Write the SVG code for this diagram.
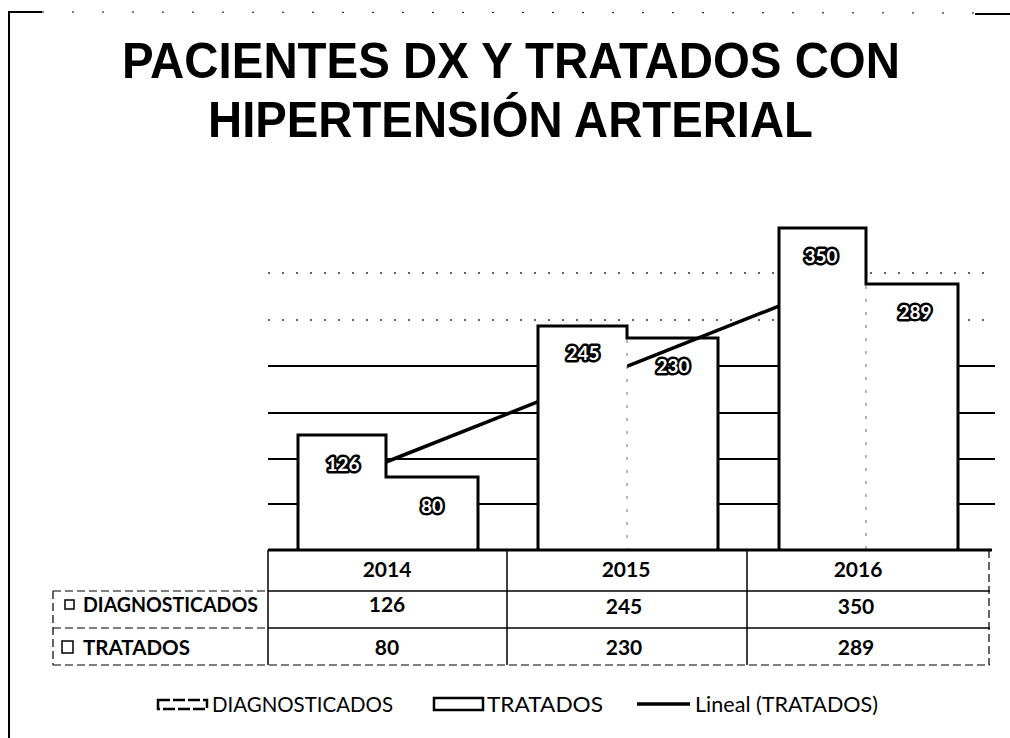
<svg xmlns="http://www.w3.org/2000/svg" width="1010" height="738" viewBox="0 0 1010 738">
<style>
.title{font-family:"Liberation Sans",Arial,sans-serif;font-weight:bold;font-size:50px;fill:#000}
.grid{stroke:#000;stroke-width:2}
.gridf{stroke:#333;stroke-width:1.5;stroke-dasharray:2 12}
.barfill{fill:#fff;stroke:none}
.barline{fill:none;stroke:#000;stroke-width:3;stroke-linejoin:miter}
.sep{stroke:#888;stroke-width:1.2;stroke-dasharray:3 10}
.val{font-family:Lato,"Liberation Sans",sans-serif;font-weight:bold;font-size:19px;fill:#fff;stroke:#000;stroke-width:5;paint-order:stroke;stroke-linejoin:round;text-anchor:middle}
.tt{font-family:Lato,"Liberation Sans",sans-serif;font-weight:bold;font-size:21px;fill:#000}
.tc{text-anchor:middle}
.tl{stroke:#000;stroke-width:1.5}
.td{stroke:#000;stroke-width:1.2;stroke-dasharray:8 4}
.lg{font-family:Lato,"Liberation Sans",sans-serif;font-size:21px;fill:#000}
</style>
<rect width="1010" height="738" fill="#fff"/>
<g id="frame">
<line x1="9" y1="12" x2="9" y2="738" stroke="#000" stroke-width="2"/>
<line x1="8" y1="12" x2="42" y2="12" stroke="#000" stroke-width="2"/>
<line x1="42" y1="12" x2="975" y2="13" stroke="#000" stroke-width="1" stroke-dasharray="2 28"/>
<line x1="975" y1="14" x2="1010" y2="14" stroke="#000" stroke-width="2"/>
</g>
<g id="title">
<text class="title" x="122" y="78" textLength="778" lengthAdjust="spacingAndGlyphs">PACIENTES DX Y TRATADOS CON</text>
<text class="title" x="208" y="137" textLength="605" lengthAdjust="spacingAndGlyphs">HIPERTENSIÓN ARTERIAL</text>
</g>
<g id="gridlines">
<line class="gridf" x1="268" y1="273" x2="995" y2="273"/>
<line class="gridf" x1="268" y1="320" x2="995" y2="320" stroke-dasharray="5 7"/>
<line class="grid" x1="268" y1="366" x2="995" y2="366"/>
<line class="grid" x1="268" y1="413" x2="995" y2="413"/>
<line class="grid" x1="268" y1="459" x2="995" y2="459"/>
<line class="grid" x1="268" y1="504" x2="995" y2="504"/>
</g>
<g id="tratados-bars">
<rect class="barfill" x="386" y="477" width="92" height="72"/>
<rect class="barfill" x="627" y="338" width="91" height="211"/>
<rect class="barfill" x="866" y="284" width="92" height="265"/>
</g>
<g id="connectors">
<line x1="386" y1="462" x2="800" y2="297.7" stroke="#000" stroke-width="3.5"/>
</g>
<g id="bar-2014">
<rect class="barfill" x="298" y="435" width="88" height="114"/>
<path class="barline" d="M298,549 V435 H386 V477 H478 V549"/>
<text class="val" x="343" y="471">126</text>
<text class="val" x="432" y="513">80</text>
</g>
<g id="bar-2015">
<rect class="barfill" x="538" y="326" width="89" height="223"/>
<line class="sep" x1="627" y1="340" x2="627" y2="549"/>
<path class="barline" d="M538,549 V326 H627 V338 H718 V549"/>
<text class="val" x="583" y="360">245</text>
<text class="val" x="673" y="373">230</text>
</g>
<g id="bar-2016">
<rect class="barfill" x="779" y="228" width="87" height="321"/>
<line class="sep" x1="866" y1="286" x2="866" y2="549"/>
<path class="barline" d="M779,549 V228 H866 V284 H958 V549"/>
<text class="val" x="821" y="263">350</text>
<text class="val" x="915" y="319">289</text>
</g>
<g id="table">
<line x1="268" y1="550" x2="992" y2="550" stroke="#000" stroke-width="3"/>
<line class="tl" x1="268" y1="591" x2="990" y2="591"/>
<line class="td" x1="53" y1="591" x2="268" y2="591"/>
<line class="tl" x1="268" y1="628" x2="990" y2="628"/>
<line class="td" x1="53" y1="628" x2="268" y2="628"/>
<line class="td" x1="53" y1="665" x2="990" y2="665" stroke-dasharray="3 6"/>
<line class="td" x1="53" y1="591" x2="53" y2="665" stroke-dasharray="3 5"/>
<line class="tl" x1="268" y1="550" x2="268" y2="665"/>
<line class="tl" x1="507" y1="550" x2="507" y2="665"/>
<line class="tl" x1="747" y1="550" x2="747" y2="665"/>
<line class="td" x1="989" y1="550" x2="989" y2="665" stroke-dasharray="4 6"/>
<text class="tt tc" x="387" y="577">2014</text>
<text class="tt tc" x="626" y="577">2015</text>
<text class="tt tc" x="858" y="577">2016</text>
<rect x="65" y="600" width="9" height="9" fill="none" stroke="#000" stroke-width="1.5"/>
<text class="tt" x="83" y="612" textLength="175" lengthAdjust="spacingAndGlyphs">DIAGNOSTICADOS</text>
<text class="tt tc" x="387" y="612">126</text>
<text class="tt tc" x="624" y="614">245</text>
<text class="tt tc" x="856" y="614">350</text>
<rect x="62" y="641" width="11" height="12" fill="none" stroke="#000" stroke-width="1.5"/>
<text class="tt" x="83" y="655" textLength="107" lengthAdjust="spacingAndGlyphs">TRATADOS</text>
<text class="tt tc" x="387" y="655">80</text>
<text class="tt tc" x="624" y="655">230</text>
<text class="tt tc" x="856" y="655">289</text>
</g>
<g id="legend">
<rect x="158" y="700" width="49" height="9" fill="#fff" stroke="#000" stroke-width="2.5" stroke-dasharray="12 3"/>
<text class="lg" x="212" y="712" textLength="181" lengthAdjust="spacingAndGlyphs">DIAGNOSTICADOS</text>
<rect x="434" y="698" width="49" height="12" fill="#fff" stroke="#000" stroke-width="2.5"/>
<text class="lg" x="487" y="712" textLength="116" lengthAdjust="spacingAndGlyphs">TRATADOS</text>
<line x1="637" y1="704" x2="690" y2="704" stroke="#000" stroke-width="3.5"/>
<text class="lg" x="695" y="712" textLength="183" lengthAdjust="spacingAndGlyphs">Lineal (TRATADOS)</text>
</g>
</svg>
